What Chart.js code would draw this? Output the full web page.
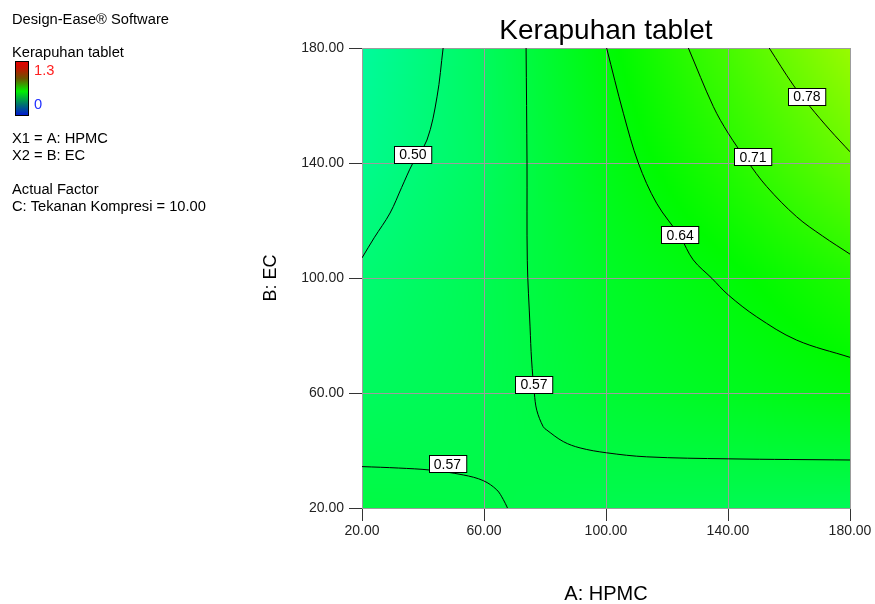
<!DOCTYPE html>
<html>
<head>
<meta charset="utf-8">
<script src="https://cdn.jsdelivr.net/npm/chart.js@4/dist/chart.umd.min.js"></script>
<style>
  html, body { margin: 0; padding: 0; background: #fff; }
  #wrap { width: 875px; height: 604px; }
</style>
</head>
<body>
<div id="wrap"><canvas id="c" width="875" height="604"></canvas></div>
<script>
const FONT = '"Liberation Sans", Arial, Helvetica, sans-serif';

// Factor levels shown on the axes
const hpmcTicks = [20, 60, 100, 140, 180];
const ecTicks = [20, 60, 100, 140, 180];

// Kerapuhan tablet (response) at the tick intersections, one row per EC level, HPMC 20..180
const responseEC20  = [0.565, 0.560, 0.550, 0.545, 0.540];
const responseEC60  = [0.530, 0.550, 0.585, 0.610, 0.635];
const responseEC100 = [0.505, 0.545, 0.600, 0.640, 0.690];
const responseEC140 = [0.470, 0.530, 0.620, 0.695, 0.780];
const responseEC180 = [0.450, 0.530, 0.640, 0.740, 0.845];

// Contour lines, [HPMC, EC] pairs
const contour050  = [[20,107],[24,114],[29.2,122.6],[33,131.5],[36.7,140],[41.3,148],[44.6,163],[46.6,180]];
const contour057a = [[73.8,180],[74.1,140],[74.2,106],[75.1,83],[75.6,71.5],[76.5,60],[77.3,54],[79.4,48.3],[80.6,47.1],[86,43.1],[91.5,40.9],[100.2,39.2],[113.3,37.8],[140.1,37.1],[180,36.7]];
const contour057b = [[20,34.4],[32,33.9],[42.3,33.2],[53.2,31.5],[59.8,29.5],[64.2,26.3],[66.3,23],[67.7,20]];
const contour064  = [[100.2,180],[105.7,157.3],[110.6,140],[116.6,126],[124.3,114.4],[128.6,106.3],[134.7,99.9],[140.1,94.1],[149.4,86.5],[162.5,78.4],[180,72.4]];
const contour071  = [[127,180],[135.2,159.6],[140.1,150.3],[146.1,141],[152.7,131.8],[162.5,121.3],[171,114.6],[180,108.3]];
const contour078  = [[153.5,180],[161.4,167.1],[166.9,159.6],[173.4,151.5],[180,143.9]];

const contourLevels = [0.50, 0.57, 0.57, 0.64, 0.71, 0.78];
const contourLines = [contour050, contour057a, contour057b, contour064, contour071, contour078];

// Where each contour carries its level label
const labelHPMC = [36.7, 76.4, 48.0, 124.3, 148.2, 165.9];
const labelEC   = [143.0, 63.1, 35.4, 115.0, 142.1, 163.3];

const surfaceRows = [responseEC20, responseEC60, responseEC100, responseEC140, responseEC180];

function locate(ticks, v) {
  let i = 0;
  while (i < ticks.length - 2 && v > ticks[i + 1]) i++;
  const t = (v - ticks[i]) / (ticks[i + 1] - ticks[i]);
  return [i, Math.min(1, Math.max(0, t))];
}

function surfaceAt(h, e) {
  const [ix, tx] = locate(hpmcTicks, h);
  const [iy, ty] = locate(ecTicks, e);
  const r0 = surfaceRows[iy], r1 = surfaceRows[iy + 1];
  const a = r0[ix] * (1 - tx) + r0[ix + 1] * tx;
  const b = r1[ix] * (1 - tx) + r1[ix + 1] * tx;
  return a * (1 - ty) + b * ty;
}

// Blue -> cyan -> green -> yellow -> red over 0 .. 1.3
function rampColor(v) {
  const t = Math.min(1, Math.max(0, v / 1.3));
  const g = 250;
  let r = 0, gg = 0, b = 0;
  if (t < 0.25) { const f = t / 0.25; r = 0; gg = g * f; b = 255; }
  else if (t < 0.5) { const f = (t - 0.25) / 0.25; r = 0; gg = g; b = 255 * (1 - f); }
  else if (t < 0.75) { const f = (t - 0.5) / 0.25; r = 255 * f; gg = g; b = 0; }
  else { const f = (t - 0.75) / 0.25; r = 255; gg = g * (1 - f); b = 0; }
  return `rgb(${Math.round(r)},${Math.round(gg)},${Math.round(b)})`;
}

const surfacePlugin = {
  id: 'responseSurface',
  beforeDraw(chart) {
    const { ctx, chartArea: a, scales: { x, y } } = chart;
    const step = 2;
    ctx.save();
    for (let py = a.top; py < a.bottom; py += step) {
      const e = y.getValueForPixel(py + step / 2);
      for (let px = a.left; px < a.right; px += step) {
        const h = x.getValueForPixel(px + step / 2);
        ctx.fillStyle = rampColor(surfaceAt(h, e));
        ctx.fillRect(px, py, step, step);
      }
    }
    ctx.restore();
  }
};

const contourLabelPlugin = {
  id: 'contourLabels',
  afterDatasetsDraw(chart) {
    const { ctx, scales: { x, y } } = chart;
    ctx.save();
    ctx.font = '14px ' + FONT;
    ctx.textAlign = 'center';
    ctx.textBaseline = 'middle';
    contourLevels.forEach((lvl, i) => {
      const cx = x.getPixelForValue(labelHPMC[i]);
      const cy = y.getPixelForValue(labelEC[i]);
      const txt = lvl.toFixed(2);
      const w = ctx.measureText(txt).width + 10;
      const hgt = 17;
      const left = Math.round(cx - w / 2) + 0.5, top = Math.round(cy - hgt / 2) + 0.5;
      ctx.fillStyle = '#ffffff';
      ctx.fillRect(left, top, w, hgt);
      ctx.strokeStyle = '#000000';
      ctx.lineWidth = 1;
      ctx.strokeRect(left, top, w, hgt);
      ctx.fillStyle = '#000000';
      ctx.fillText(txt, cx, cy + 1);
    });
    ctx.restore();
  }
};

const sidePanelPlugin = {
  id: 'sidePanel',
  afterDraw(chart) {
    const ctx = chart.ctx;
    ctx.save();
    ctx.font = '14.7px ' + FONT;
    ctx.textAlign = 'left';
    ctx.textBaseline = 'alphabetic';
    ctx.fillStyle = '#000';
    ctx.fillText('Design-Ease\u00AE Software', 12, 24);
    ctx.fillText('Kerapuhan tablet', 12, 57);
    ctx.fillText('X1 = A: HPMC', 12, 142.5);
    ctx.fillText('X2 = B: EC', 12, 159.5);
    ctx.fillText('Actual Factor', 12, 194);
    ctx.fillText('C: Tekanan Kompresi = 10.00', 12, 211);

    const g = ctx.createLinearGradient(0, 61, 0, 116);
    g.addColorStop(0, '#e80000');
    g.addColorStop(0.12, '#c81000');
    g.addColorStop(0.32, '#6a5400');
    g.addColorStop(0.55, '#00f000');
    g.addColorStop(0.78, '#00786a');
    g.addColorStop(1, '#0010d8');
    ctx.fillStyle = g;
    ctx.fillRect(15, 61, 14, 55);
    ctx.strokeStyle = '#000';
    ctx.lineWidth = 1;
    ctx.strokeRect(15.5, 61.5, 13, 54);

    ctx.fillStyle = '#ff2020';
    ctx.fillText('1.3', 34, 75);
    ctx.fillStyle = '#2030ff';
    ctx.fillText('0', 34, 109);
    ctx.restore();
  }
};

Chart.defaults.font.family = FONT;
Chart.defaults.color = '#111';

const datasets = contourLines.map((pts, i) => ({
  label: contourLevels[i].toFixed(2),
  data: pts.map(([h, e]) => ({ x: h, y: e })),
  showLine: true,
  borderColor: '#000',
  borderWidth: 1,
  pointRadius: 0,
  tension: 0.35,
  fill: false
}));

new Chart(document.getElementById('c'), {
  type: 'scatter',
  data: { datasets },
  plugins: [surfacePlugin, contourLabelPlugin, sidePanelPlugin],
  options: {
    responsive: false,
    animation: false,
    layout: { padding: { left: 0, right: 25, top: 0, bottom: 0 } },
    plugins: {
      legend: { display: false },
      tooltip: { enabled: false },
      title: {
        display: true,
        text: 'Kerapuhan tablet',
        fullSize: false,
        color: '#000',
        font: { size: 28, weight: 'normal', family: FONT, lineHeight: 1.2 },
        padding: { top: 14, bottom: 0.4 }
      }
    },
    scales: {
      x: {
        type: 'linear',
        min: 20, max: 180,
        afterBuildTicks: s => { s.ticks = hpmcTicks.map(v => ({ value: v })); },
        afterFit: s => { s.height = 96; s.paddingLeft = 0; s.paddingRight = 0; },
        ticks: { callback: v => Number(v).toFixed(2), color: '#222', font: { size: 14 }, padding: 2, maxRotation: 0, autoSkip: false },
        grid: { color: '#9c9c9c', lineWidth: 1, tickLength: 13, tickColor: '#333' },
        border: { color: '#9c9c9c' },
        title: { display: true, text: 'A: HPMC', color: '#000', font: { size: 20, lineHeight: 0.92 }, padding: 0 }
      },
      y: {
        type: 'linear',
        min: 20, max: 180,
        afterBuildTicks: s => { s.ticks = ecTicks.map(v => ({ value: v })); },
        afterFit: s => { s.width = 362; s.paddingTop = 0; s.paddingBottom = 0; },
        ticks: { callback: v => Number(v).toFixed(2), color: '#222', font: { size: 14 }, padding: 5, autoSkip: false },
        grid: { color: '#9c9c9c', lineWidth: 1, tickLength: 13, tickColor: '#333' },
        border: { color: '#9c9c9c' },
        title: { display: true, text: 'B: EC', color: '#000', font: { size: 18, lineHeight: 1.2 }, padding: { top: 260, bottom: 0 } }
      }
    }
  }
});
</script>
</body>
</html>
